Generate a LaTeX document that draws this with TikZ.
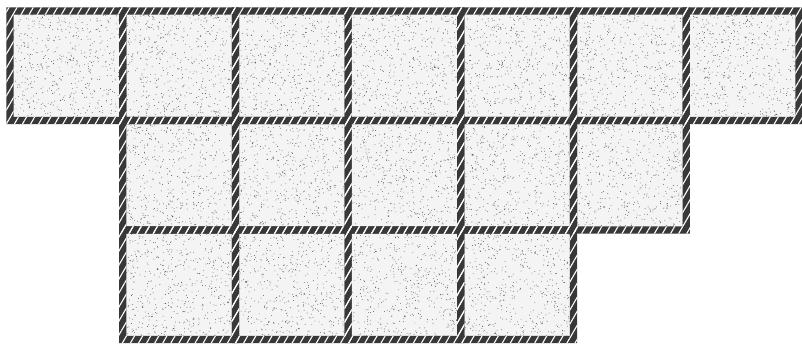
\documentclass[tikz,border=0pt]{standalone}
\usetikzlibrary{patterns.meta}
\definecolor{framedark}{HTML}{383838}
\definecolor{cellbg}{HTML}{F4F4F4}
\definecolor{dotcol}{HTML}{5A5A5A}
\tikzset{
  cell/.style={minimum width=112.7pt, minimum height=109.5pt, inner sep=0pt, outer sep=0pt, fill=cellbg},
  framebar/.style={fill=framedark, even odd rule},
  framehatch/.style={pattern={Lines[angle=60,distance=7pt,line width=1.1pt]}, pattern color=white, even odd rule}
}
\begin{document}
\begin{tikzpicture}[x=1pt,y=-1pt]
\useasboundingbox[fill=white] (0,0) rectangle (802,345);
\pgfmathsetseed{7}
% cells: name / column / row
\foreach \n/\c/\r in {a1/0/0,a2/1/0,a3/2/0,a4/3/0,a5/4/0,a6/5/0,a7/6/0,
                      b1/1/1,b2/2/1,b3/3/1,b4/4/1,b5/5/1,
                      c1/1/2,c2/2/2,c3/3/2,c4/4/2}{
  \node[cell] (\n) at ({10+112.7*\c+56.35},{11+109.5*\r+54.75}) {};
  \begin{scope}[shift={(\n.north west)}]
    \fill[dotcol] \foreach \i in {1,...,520}{ ({3+rnd*106.7},{3+rnd*103.5}) circle (0.45pt) };
  \end{scope}
}
% hatched frames
\foreach \n in {a1,a2,a3,a4,a5,a6,a7,b1,b2,b3,b4,b5,c1,c2,c3,c4}{
  \fill[framebar]
    ([shift={(-3.6pt,3.6pt)}]\n.north west) rectangle ([shift={(3.6pt,-3.6pt)}]\n.south east)
    ([shift={(3.6pt,-3.6pt)}]\n.north west) rectangle ([shift={(-3.6pt,3.6pt)}]\n.south east);
}
\foreach \n in {a1,a2,a3,a4,a5,a6,a7,b1,b2,b3,b4,b5,c1,c2,c3,c4}{
  \fill[framehatch]
    ([shift={(-3.6pt,3.6pt)}]\n.north west) rectangle ([shift={(3.6pt,-3.6pt)}]\n.south east)
    ([shift={(3.6pt,-3.6pt)}]\n.north west) rectangle ([shift={(-3.6pt,3.6pt)}]\n.south east);
}
\end{tikzpicture}
\end{document}
